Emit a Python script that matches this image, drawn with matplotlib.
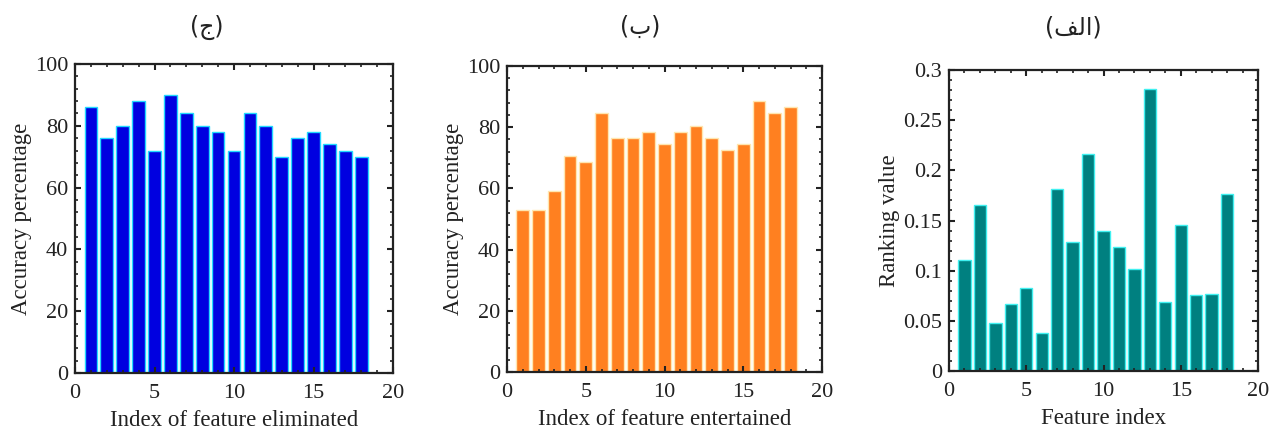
import matplotlib
matplotlib.use("Agg")
import matplotlib.pyplot as plt
from matplotlib.ticker import MultipleLocator

plt.rcParams['font.family'] = ['Liberation Serif', 'DejaVu Sans']

idx = list(range(1, 19))
acc_eliminated = [86, 76, 80, 88, 72, 90, 84, 80, 78, 72, 84, 80, 70, 76, 78, 74, 72, 70]
acc_entertained = [53, 53, 59, 70.5, 68.5, 84.5, 76.5, 76.5, 78.5, 74.5, 78.5, 80.5,
                   76.5, 72.5, 74.5, 88.5, 84.5, 86.5]
ranking = [0.111, 0.165, 0.048, 0.067, 0.083, 0.038, 0.181, 0.129, 0.216, 0.140,
           0.124, 0.102, 0.281, 0.069, 0.146, 0.076, 0.077, 0.176]

titles = ["(\u062C)", "(\u0628)", "(\uFED2\uFEDF\uFE8D)"]
xlabels = ["Index of feature eliminated", "Index of feature entertained", "Feature index"]
ylabels = ["Accuracy percentage", "Accuracy percentage", "Ranking value"]

fig = plt.figure(figsize=(12.72, 4.30), dpi=100)
W, H = 1272, 430
boxes = [(75, 64, 393, 373), (507, 66, 822, 372), (949, 70, 1258, 371)]
title_x = [207, 640, 1073]
data = [acc_eliminated, acc_entertained, ranking]
faces = ['#0000E0', '#FF8020', '#008080']
edges = ['#22D8FF', '#FFE6B0', '#40F0F0']

for i in range(3):
    l, t, r, b = boxes[i]
    ax = fig.add_axes([l / W, 1 - b / H, (r - l) / W, (b - t) / H])
    ax.bar(idx, data[i], width=0.8, color=faces[i], edgecolor=edges[i], linewidth=1.0)
    ax.set_xlim(0, 20)
    ax.xaxis.set_major_locator(MultipleLocator(5))
    ax.xaxis.set_minor_locator(MultipleLocator(1))
    if i < 2:
        ax.set_ylim(0, 100)
        ax.yaxis.set_major_locator(MultipleLocator(20))
        ax.yaxis.set_minor_locator(MultipleLocator(4))
    else:
        ax.set_ylim(0, 0.3)
        ax.yaxis.set_minor_locator(MultipleLocator(0.01))
        ax.set_yticks([0, 0.05, 0.1, 0.15, 0.2, 0.25, 0.3])
        ax.set_yticklabels(['0', '0.05', '0.1', '0.15', '0.2', '0.25', '0.3'])
    ax.tick_params(which='both', direction='in', top=True, right=True,
                   colors='#222222', labelcolor='#222222', labelsize=16)
    ax.tick_params(axis='x', pad=8)
    ax.tick_params(axis='y', pad=5)
    ax.tick_params(which='major', length=4, width=1.5)
    ax.tick_params(which='minor', length=2, width=1.2)
    for s in ax.spines.values():
        s.set_linewidth(1.6)
        s.set_color('#222222')
    ax.set_xlabel(xlabels[i], fontsize=16.5, color='#222222', labelpad=5)
    ax.set_ylabel(ylabels[i], fontsize=16.5, color='#222222', labelpad=2)
    fig.text(title_x[i] / W, 1 - 27 / H, titles[i], ha='center', va='center', fontsize=17,
             color='#222222', family=['DejaVu Sans'])

fig.savefig("out.png", dpi=100)
